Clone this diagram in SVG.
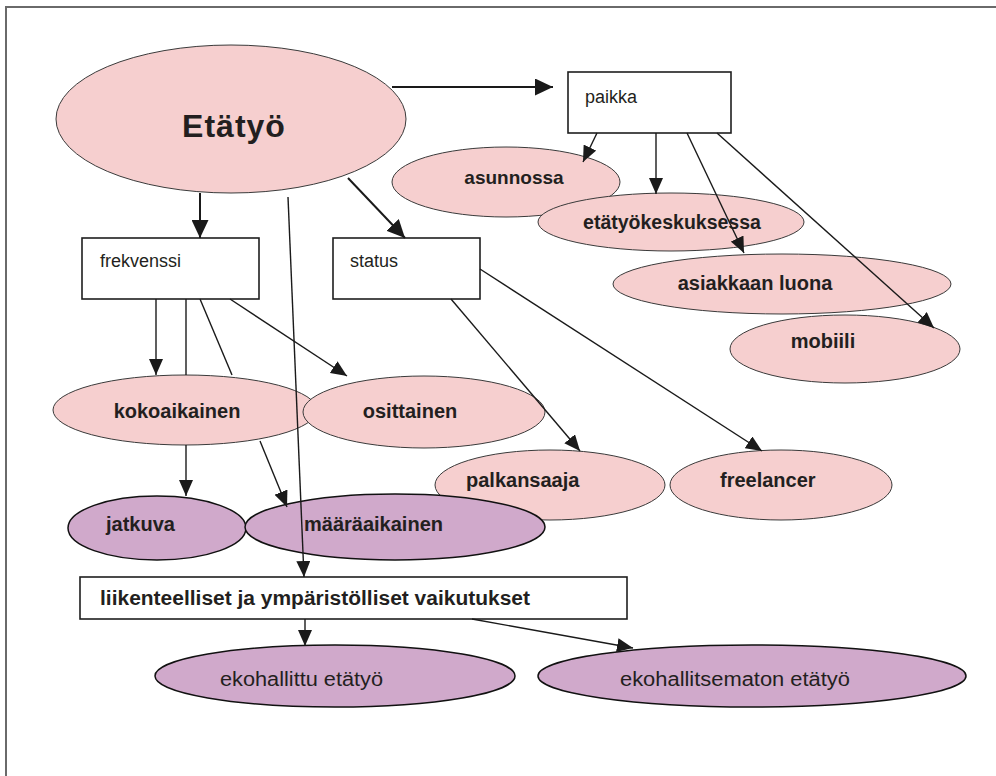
<svg xmlns="http://www.w3.org/2000/svg" width="996" height="776" viewBox="0 0 996 776">
<defs>
<marker id="ah" markerUnits="userSpaceOnUse" markerWidth="17" markerHeight="14" refX="16" refY="7" orient="auto">
<path d="M0,0 L16,7 L0,14 z" fill="#1a1a1a"/>
</marker>
<marker id="ahb" markerUnits="userSpaceOnUse" markerWidth="19" markerHeight="17" refX="18" refY="8.5" orient="auto">
<path d="M0,0 L18,8.5 L0,17 z" fill="#1a1a1a"/>
</marker>
<style>
.pink{fill:#f6cfcf;stroke:#3a3a3a;stroke-width:1}
.purp{fill:#d0a9cb;stroke:#111;stroke-width:1.5}
.box{fill:#fff;stroke:#1e1e1e;stroke-width:1.6}
.lb{font-family:"Liberation Sans",Arial,sans-serif;font-weight:bold;font-size:20px;fill:#231f20}
.lr{font-family:"Liberation Sans",Arial,sans-serif;font-size:18px;fill:#231f20}
.c{stroke:#1a1a1a;stroke-width:1.4;fill:none}
.ca{stroke:#1a1a1a;stroke-width:1.4;fill:none;marker-end:url(#ah)}
.cb{stroke:#1a1a1a;stroke-width:2;fill:none;marker-end:url(#ahb)}
</style>
</defs>
<rect width="996" height="776" fill="#fff"/>
<path d="M6,776 V7 H996" fill="none" stroke="#6a6a6a" stroke-width="2"/>

<g id="etatyo">
<ellipse class="pink" cx="231" cy="119" rx="175" ry="74"/>
<text class="lb" x="234" y="137" text-anchor="middle" style="font-size:32px;letter-spacing:1px">Etätyö</text>
</g>
<g id="paikka">
<rect class="box" x="568" y="72" width="163" height="61"/>
<text class="lr" x="585" y="103">paikka</text>
</g>
<g id="asunnossa">
<ellipse class="pink" cx="506" cy="182" rx="114" ry="35"/>
<text class="lb" x="514" y="184" text-anchor="middle" style="font-size:19px">asunnossa</text>
</g>
<g id="etatyokeskuksessa">
<ellipse class="pink" cx="671" cy="222" rx="133" ry="29"/>
<text class="lb" x="672" y="229" text-anchor="middle" style="font-size:19.5px">etätyökeskuksessa</text>
</g>
<g id="asiakkaan">
<ellipse class="pink" cx="782" cy="284" rx="169" ry="30"/>
<text class="lb" x="755" y="290" text-anchor="middle">asiakkaan luona</text>
</g>
<g id="mobiili">
<ellipse class="pink" cx="845" cy="349" rx="115" ry="34"/>
<text class="lb" x="823" y="348" text-anchor="middle">mobiili</text>
</g>
<g id="frekvenssi">
<rect class="box" x="82" y="238" width="177" height="61"/>
<text class="lr" x="100" y="267">frekvenssi</text>
</g>
<g id="status">
<rect class="box" x="333" y="238" width="147" height="61"/>
<text class="lr" x="350" y="267">status</text>
</g>
<g id="kokoaikainen">
<ellipse class="pink" cx="185" cy="410" rx="132" ry="35"/>
<text class="lb" x="177" y="418" text-anchor="middle">kokoaikainen</text>
</g>
<g id="osittainen">
<ellipse class="pink" cx="424" cy="412" rx="121" ry="36"/>
<text class="lb" x="410" y="418" text-anchor="middle">osittainen</text>
</g>
<g id="palkansaaja">
<ellipse class="pink" cx="550" cy="485" rx="115" ry="35"/>
<text class="lb" x="466" y="487">palkansaaja</text>
</g>
<g id="freelancer">
<ellipse class="pink" cx="781" cy="485" rx="111" ry="35"/>
<text class="lb" x="720" y="487">freelancer</text>
</g>
<g id="jatkuva">
<ellipse class="purp" cx="157" cy="528" rx="89" ry="32"/>
<text class="lb" x="106" y="531">jatkuva</text>
</g>
<g id="maaraaikainen">
<ellipse class="purp" cx="395" cy="527" rx="150" ry="33"/>
<text class="lb" x="304" y="531">määräaikainen</text>
</g>
<g id="liikenteelliset">
<rect class="box" x="80" y="577" width="547" height="42"/>
<text class="lb" x="100" y="605" textLength="430" lengthAdjust="spacingAndGlyphs">liikenteelliset ja ympäristölliset vaikutukset</text>
</g>
<g id="ekohallittu">
<ellipse class="purp" cx="335" cy="676" rx="180" ry="31"/>
<text class="lr" x="220" y="686" style="font-size:20px" textLength="163" lengthAdjust="spacingAndGlyphs">ekohallittu etätyö</text>
</g>
<g id="ekohallitsematon">
<ellipse class="purp" cx="752" cy="676" rx="214" ry="31"/>
<text class="lr" x="620" y="686" style="font-size:20px" textLength="230" lengthAdjust="spacingAndGlyphs">ekohallitsematon etätyö</text>
</g>

<g id="connectors">
<line class="cb" x1="392" y1="87" x2="553" y2="87"/>
<line class="cb" x1="200" y1="193" x2="200" y2="238"/>
<line class="cb" x1="348" y1="178" x2="405" y2="238"/>
<line class="ca" x1="288" y1="197" x2="304" y2="577"/>
<line class="ca" x1="597" y1="133" x2="583" y2="162"/>
<line class="ca" x1="656" y1="133" x2="656" y2="194"/>
<line class="ca" x1="687" y1="133" x2="744" y2="253"/>
<line class="ca" x1="717" y1="133" x2="934" y2="328"/>
<line class="ca" x1="156" y1="299" x2="156" y2="375"/>
<line class="c" x1="186" y1="299" x2="186" y2="375"/>
<line class="ca" x1="186" y1="445" x2="186" y2="496"/>
<line class="c" x1="200" y1="299" x2="232" y2="375"/>
<line class="ca" x1="260" y1="441" x2="287" y2="507"/>
<line class="ca" x1="230" y1="299" x2="347" y2="376"/>
<line class="ca" x1="451" y1="299" x2="580" y2="451"/>
<line class="ca" x1="480" y1="269" x2="762" y2="451"/>
<line class="ca" x1="305" y1="619" x2="305" y2="646"/>
<line class="ca" x1="472" y1="619" x2="633" y2="648"/>
</g>
</svg>
